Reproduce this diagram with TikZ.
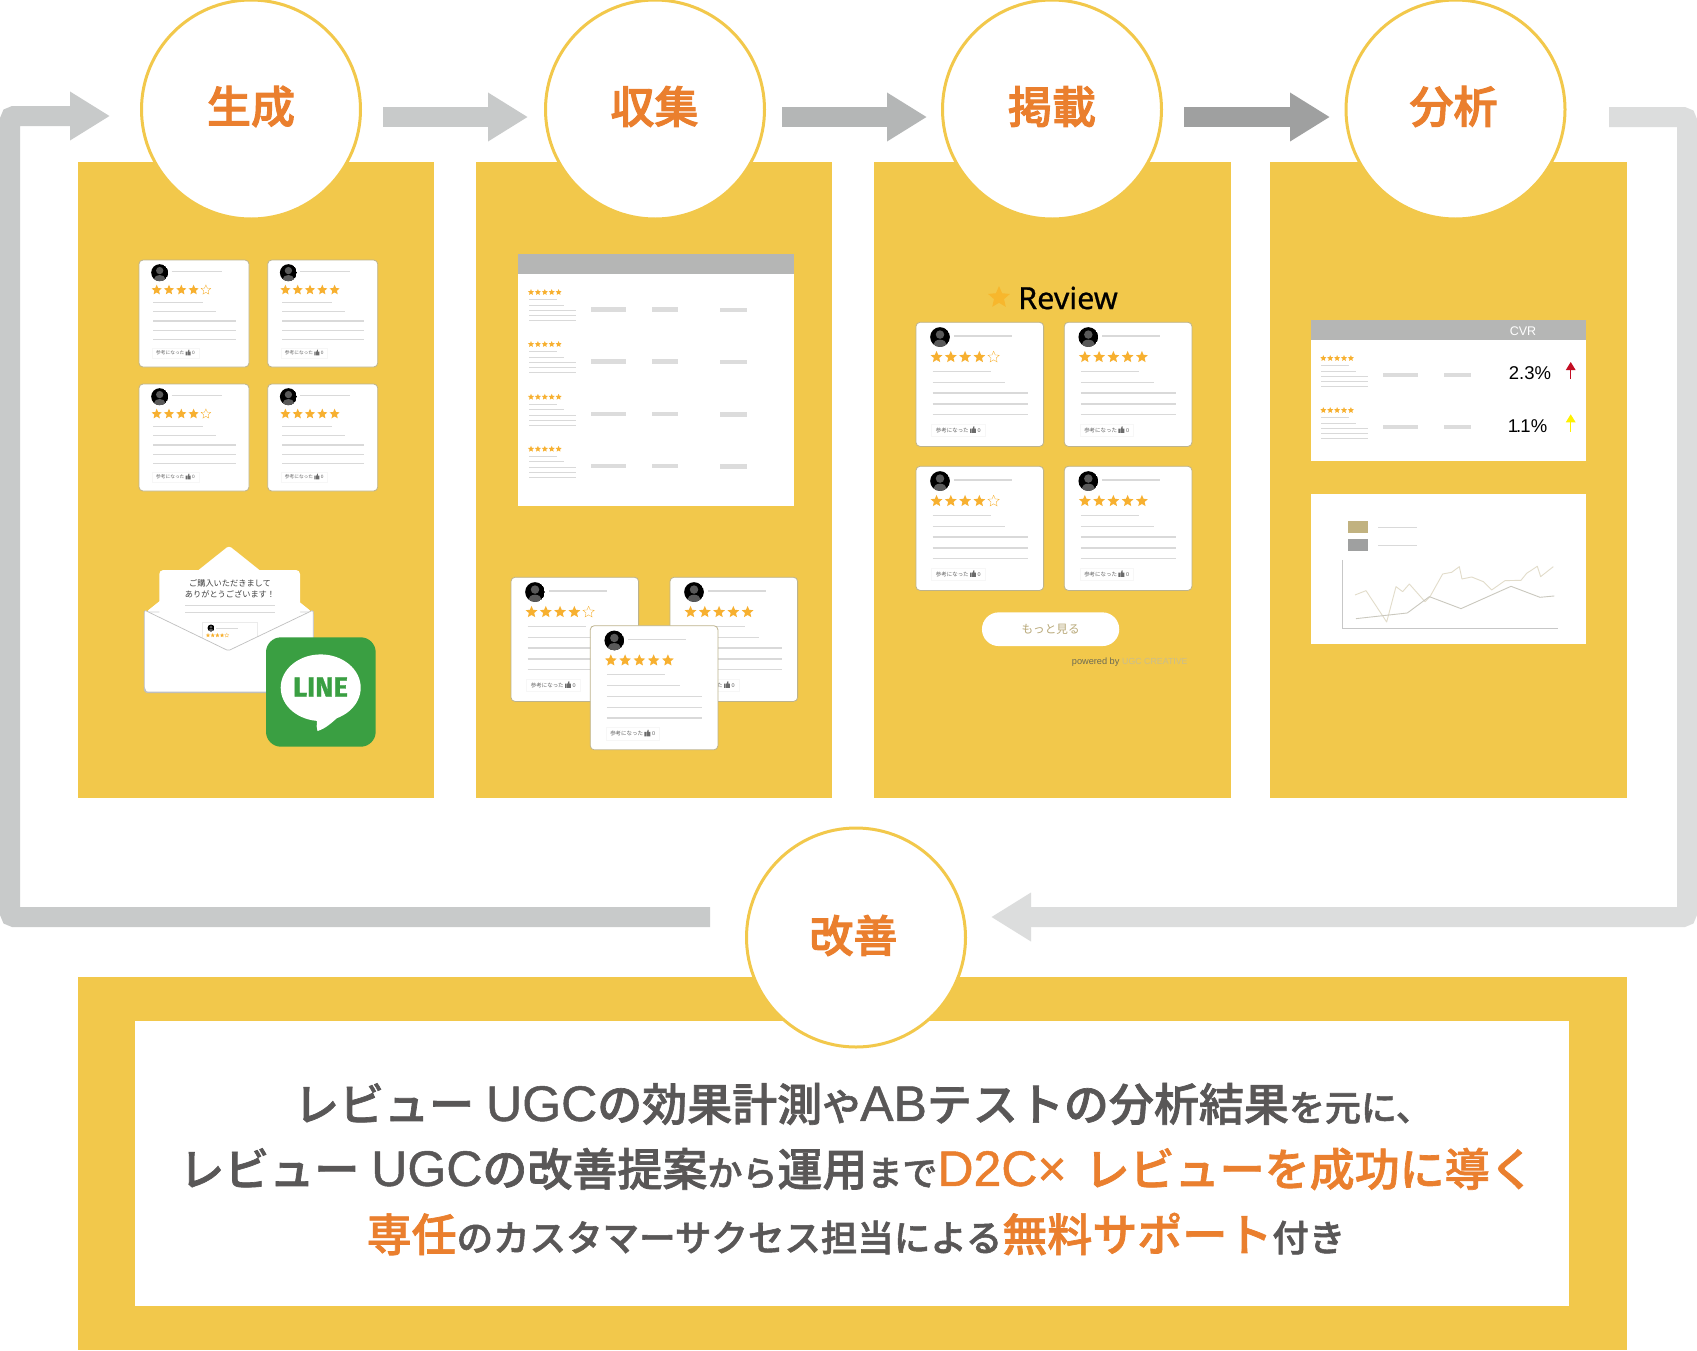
\documentclass[tikz,border=0pt]{standalone}
\usepackage{fontspec}
\usetikzlibrary{arrows.meta,calc}
\setmainfont{Noto Sans CJK JP}
\newfontfamily\cjkm[FakeBold=1.5]{Noto Sans CJK JP Medium}
\newfontfamily\cjkl[FakeBold=2.2]{Noto Sans CJK JP Medium}
\newfontfamily\lsans{Liberation Sans}
\newfontfamily\lsansb[FakeBold=1]{Liberation Sans}
\newfontfamily\nsans[FakeBold=.6]{Noto Sans}
\newfontfamily\fsans[BoldFeatures={FakeBold=1.2}]{Fira Sans}
\newcommand\fs[1]{\fontsize{#1}{#1}\selectfont}
\definecolor{panelc}{HTML}{F2C84B}
\definecolor{orangec}{HTML}{EA7F2E}
\definecolor{greyt}{HTML}{595757}
\definecolor{starc}{HTML}{F7B030}
\definecolor{linec}{HTML}{D9D9D9}
\definecolor{barc}{HTML}{DCDCDC}
\definecolor{headc}{HTML}{B5B6B5}
\definecolor{edgec}{HTML}{BDB38D}
\definecolor{arrowa}{HTML}{C8CACA}
\definecolor{arrowb}{HTML}{B4B6B6}
\definecolor{arrowc}{HTML}{9FA0A0}
\definecolor{arrowd}{HTML}{DCDDDD}
\definecolor{linegreen}{HTML}{3A9F42}
\tikzset{
  panel/.style={fill=panelc,draw=none},
  stepcircle/.style={circle,draw=panelc,line width=3pt,fill=white,minimum size=219pt,inner sep=0pt},
  steplabel/.style={inner sep=0pt,text=orangec,font=\fs{44}\cjkl},
  bigarrow/.style={line width=20pt,-{Triangle[length=40pt,width=46pt]}},
  cardedge/.style={fill=white,draw=edgec,line width=.8pt,rounded corners=4pt},
  gline/.style={draw=linec,line width=1.4pt},
  bar/.style={fill=barc,draw=none},
  bigt/.style={inner sep=0pt,text=greyt},
}
\newcommand\starat[3]{\path[#3,shift={#1},scale=#2] (90:1pt) -- (126:.46pt) -- (162:1pt) -- (198:.46pt) -- (234:1pt) -- (270:.46pt) -- (306:1pt) -- (342:.46pt) -- (18:1pt) -- (54:.46pt) -- cycle;}
\newcommand\avatar[3]{%
  \begin{scope}
  \clip (#1,#2) circle (#3pt);
  \fill[black] (#1,#2) circle (#3pt);
  \fill[black!65] (#1,#2-.25*#3) circle (.43*#3 pt);
  \fill[black!65] (#1,#2+.72*#3) ellipse (.65*#3 pt and .45*#3 pt);
  \end{scope}}
\newcommand\rvcard[5]{%
  \begin{scope}[shift={(#2,#3)},scale=#4]
    \path[cardedge] (0,0) rectangle (110,107);
    \avatar{20.7}{12.7}{8.5}
    \draw[gline] (32.7,11.7) -- (82.7,11.7);
    \foreach \i in {1,...,5}{
      \ifnum\i>#5\relax
        \starat{({17.7+12.3*(\i-1)},30)}{5.1}{draw=starc,fill=white,line width=.35pt}
      \else
        \starat{({17.7+12.3*(\i-1)},30)}{5.3}{fill=starc}
      \fi
    }
    \draw[gline] (14.3,42.3) -- (64.3,42.3);
    \draw[gline] (14.3,51.7) -- (77,51.7);
    \draw[gline] (14.3,61) -- (96.7,61);
    \draw[gline] (14.3,70.3) -- (96.7,70.3);
    \draw[gline] (14.3,79.7) -- (96.7,79.7);
    \draw[black!3,line width=.4pt] (13.3,87.7) rectangle (59.7,98.3);
    \node[transform shape,anchor=west,inner sep=0pt,text=black!62,font=\fs{4.7}] (#1-btn) at (17,93.2) {参考になった};
    \fill[black!58] (46.6,91.6) rectangle (47.9,95.4) (48.3,91.6) rectangle (51.7,95.4) (48.8,91.8) -- (49.6,89.6) -- (50.3,89.8) -- (50.2,91.8) -- cycle;
    \node[transform shape,anchor=west,inner sep=0pt,text=black!62,font=\fs{4.7}\lsans] (#1-cnt) at (53,93.2) {0};
  \end{scope}}
\newcommand\tblrow[2]{%
  \foreach \i in {0,...,4}{\starat{({#1+6.9*\i},#2)}{3.2}{fill=starc}}
  \draw[linec,line width=.8pt] ({#1-2},#2+7.3) -- ({#1+25.5},#2+7.3);
  \draw[linec,line width=.8pt] ({#1-2},#2+12.6) -- ({#1+33},#2+12.6);
  \draw[linec,line width=.8pt] ({#1-2},#2+18) -- ({#1+44.5},#2+18);
  \draw[linec,line width=.8pt] ({#1-2},#2+23) -- ({#1+44.5},#2+23);
  \draw[linec,line width=.8pt] ({#1-2},#2+28.3) -- ({#1+44.5},#2+28.3);}
\begin{document}
\begin{tikzpicture}[x=1pt,y=-1pt]
\useasboundingbox (0,0) rectangle (1697,1350);
\fill[white] (0,0) rectangle (1697,1350);

% panels
\path[panel] (77.5,161.5) rectangle (434,798);
\path[panel] (476,161.5) rectangle (832,798);
\path[panel] (874,161.5) rectangle (1231,798);
\path[panel] (1270,161.5) rectangle (1627,798);
\path[panel] (77.5,977) rectangle (1627,1350);
\fill[white] (135,1021) rectangle (1569,1306);

% connector ends
\coordinate (loopa) at (710,917);
\coordinate (loopb) at (10,917);
\coordinate (loopc) at (10,116);
\coordinate (loopd) at (110,116);
\coordinate (a2s) at (383,117);
\coordinate (a2e) at (528,117);
\coordinate (a3s) at (782,117);
\coordinate (a3e) at (927,117);
\coordinate (a4s) at (1184,117);
\coordinate (a4e) at (1330,117);
\coordinate (rloopa) at (1609,117);
\coordinate (rloopb) at (1687,117);
\coordinate (rloopc) at (1687,917);
\coordinate (rloopd) at (991,917);

\draw[bigarrow,arrowa,rounded corners=4pt] (loopa) -- (loopb) -- (loopc) -- (loopd);
\draw[bigarrow,arrowa] (a2s) -- (a2e);
\draw[bigarrow,arrowb] (a3s) -- (a3e);
\draw[bigarrow,arrowc] (a4s) -- (a4e);
\draw[bigarrow,arrowd,rounded corners=4pt] (rloopa) -- (rloopb) -- (rloopc) -- (rloopd);

% circles
\node[stepcircle] (n1) at (251,109.5) {};
\node[stepcircle] (n2) at (655,109.5) {};
\node[stepcircle] (n3) at (1052,109.5) {};
\node[stepcircle] (n4) at (1455.5,109.5) {};
\node[stepcircle] (n5) at (856,937.5) {};
\node[steplabel] (l1) at (251,106.5) {生成};
\node[steplabel] (l2) at (654.5,106.5) {収集};
\node[steplabel] (l3) at (1052,106.5) {掲載};
\node[steplabel] (l4) at (1453.5,106.5) {分析};
\node[steplabel] (l5) at (853.5,935.5) {改善};

% panel 1
\rvcard{c1a}{139}{260}{1}{4}
\rvcard{c1b}{267.7}{260}{1}{5}
\rvcard{c1c}{139}{384}{1}{4}
\rvcard{c1d}{267.7}{384}{1}{5}

% envelope
\fill[white,rounded corners=3pt] (146,612) -- (229,545.7) -- (312,612) -- cycle;
\fill[white,draw=black!18,line width=.6pt,rounded corners=3pt] (144.3,612) -- (144.3,692.3) -- (313.3,692.3) -- (313.3,612) -- cycle;
\path[fill=white,rounded corners=4pt] (159.3,650) -- (159.3,570) -- (300,570) -- (300,650) -- cycle;
\node[inner sep=0pt,align=center,text=black!75,font=\fs{8.2}] (envtext) at (230,588.5) {ご購入いただきまして\\[2.6pt]ありがとうございます！};
\draw[linec,line width=.7pt] (185,605) -- (275,605);
\draw[linec,line width=.7pt] (185,612.3) -- (275,612.3);
\draw[black!8,line width=.5pt,fill=white] (202.7,622.3) rectangle (257.3,650);
\avatar{211}{628}{3.5}
\draw[linec,line width=.5pt] (216,628) -- (238,628);
\foreach \i in {0,...,4}{
  \ifnum\i=4 \starat{({208+4.7*\i},635.3)}{2.2}{draw=starc,fill=white,line width=.2pt}
  \else \starat{({208+4.7*\i},635.3)}{2.2}{fill=starc}\fi}
\path[fill=white,draw=black!25,line width=.7pt,rounded corners=1.5pt] (144.3,610) -- (228.3,650.7) -- (313.3,610) -- (313.3,692) -- (144.3,692) -- cycle;
\fill[white] (146,612.5) -- (228.3,652) -- (312,612.5) -- (312,690.5) -- (146,690.5) -- cycle;
\draw[black!25,line width=1.2pt,rounded corners=3pt] (145,690) -- (145,692.6) -- (313,692.6) -- (313,690);

% LINE icon
\fill[rounded corners=15pt,linegreen] (266,637.3) rectangle (375.7,746.7);
\fill[white] (320.7,687.7) ellipse (40pt and 33.3pt);
\fill[white] (310,715) -- (317,720) .. controls (317,725) and (316,728) .. (317.5,731) .. controls (325,729) and (333,722) .. (340,715) -- cycle;
\node[inner sep=0pt,font=\fs{27.5}\fsans\bfseries,text=linegreen] (linetext) at (320.5,687) {LINE};

% panel 2 table
\fill[white] (518.3,254) rectangle (794,506);
\fill[headc] (518.3,254) rectangle (794,274.3);
\foreach \yy in {292.3,344.3,397,449}{
  \tblrow{531}{\yy}
  \path[bar] (591,\yy+14.8) rectangle (626,\yy+19.2);
  \path[bar] (652,\yy+14.8) rectangle (678.3,\yy+19.2);
  \path[bar] (720.3,\yy+15.4) rectangle (747,\yy+19.8);
}
\rvcard{c2a}{511}{577.3}{1.16}{4}
\rvcard{c2b}{670}{577.3}{1.16}{5}
\rvcard{c2c}{590.3}{625.7}{1.16}{5}

% panel 3
\starat{(999,297.5)}{11.5}{fill={rgb,255:red,247;green,183;blue,45}}
\node[inner sep=0pt,text=black,font=\fs{30.5}\nsans] (rvtitle) at (1068,298) {Review};
\rvcard{c3a}{916}{322.3}{1.16}{4}
\rvcard{c3b}{1064.3}{322.3}{1.16}{5}
\rvcard{c3c}{916}{466.3}{1.16}{4}
\rvcard{c3d}{1064.3}{466.3}{1.16}{5}
\node[fill=white,rounded corners=16.8pt,minimum width=137.3pt,minimum height=33.7pt,inner sep=0pt,text={rgb,255:red,184;green,168;blue,120},font=\fs{11.6}] (morebtn) at (1050.6,629.2) {もっと見る};
\node[anchor=west,inner sep=0pt,text={rgb,255:red,107;green,106;blue,85},font=\fs{9.2}\lsans] (pwr) at (1071.7,661.7) {powered by};
\node[anchor=west,inner sep=0pt,text={rgb,255:red,201;green,189;blue,143},font=\fs{8.8}\lsans] (ugc) at (1122,661.7) {UGC CREATIVE};

% panel 4 table
\fill[white] (1311,320) rectangle (1586,461);
\fill[headc] (1311,320) rectangle (1586,340);
\node[inner sep=0pt,text=white,font=\fs{12.5}\lsans] (cvr) at (1523,330.7) {CVR};
\foreach \yy in {358.3,410.3}{
  \tblrow{1323.3}{\yy}
  \path[bar] (1383.3,\yy+14.5) rectangle (1418,\yy+19);
  \path[bar] (1444,\yy+14.5) rectangle (1470.7,\yy+19);
}
\node[inner sep=0pt,text=black,font=\fs{18.5}\lsans] (v1) at (1530,373.5) {2.3\%};
\node[inner sep=0pt,text=black,font=\fs{18.5}\lsans] (v2) at (1527.5,425.7) {1\kern-2pt.\kern-.8pt 1\%};
\coordinate (up1s) at (1570.7,379);
\coordinate (up1e) at (1570.7,362);
\coordinate (up2s) at (1570.7,431.7);
\coordinate (up2e) at (1570.7,414.3);
\draw[line width=1.1pt,-{Triangle[length=8pt,width=9.5pt]},color={rgb,255:red,195;green,13;blue,35}] (up1s) -- (up1e);
\draw[line width=1.1pt,-{Triangle[length=8pt,width=9.5pt]},color={rgb,255:red,255;green,241;blue,0}] (up2s) -- (up2e);

% chart
\fill[white] (1311,494) rectangle (1586,644.3);
\fill[color={rgb,255:red,193;green,178;blue,128}] (1347.7,521) rectangle (1367.7,532.7);
\fill[arrowc] (1347.7,539) rectangle (1367.7,551);
\draw[linec,line width=.7pt] (1378,527) -- (1417,527);
\draw[linec,line width=.7pt] (1378,545.3) -- (1417,545.3);
\begin{scope}[shift={(1300,310)},scale=.3333]
  \draw[black!22,line width=.7pt] (127,750) -- (127,955) -- (773,955);
  \draw[line width=.9pt,color={rgb,255:red,226;green,220;blue,202},line join=round] (165,855) -- (198,842) -- (260,936) -- (288,830) -- (308,845) -- (328,822) -- (375,875) -- (390,860) -- (428,792) -- (455,787) -- (478,770) -- (486,807) -- (515,801) -- (550,815) -- (575,840) -- (615,812) -- (663,811) -- (680,790) -- (712,769) -- (722,800) -- (760,770);
  \draw[line width=.9pt,color={rgb,255:red,202;green,200;blue,190},line join=round] (168,926) -- (322,909) -- (388,860) -- (483,896) -- (633,829) -- (720,862) -- (763,858);
\end{scope}

% bottom text
\newcommand\lat[1]{{\fs{50}\lsansb #1}}
\node[bigt] (t1) at (863,1104) {\cjkm\fs{45}レビュー\hspace{12pt}\lat{UGC}の効果計測{\fs{38}や}\lat{AB}テ\kern1ptス\kern1ptトの分析結果{\fs{36}を元に、}};
\node[bigt] (t2) at (857,1169) {\cjkm\fs{45}レビュー\hspace{12pt}\lat{UGC}の改善提案{\fs{35}から}運用{\fs{35}まで}\textcolor{orangec}{\lat{D2C×}\hspace{18pt}レビューを成功に導く}};
\node[bigt] (t3) at (856,1234) {\cjkm\fs{45}\textcolor{orangec}{専任}{\fs{36.5}のカスタマーサクセス担当による}\textcolor{orangec}{無料サポート}{\fs{36.5}付き}};
\end{tikzpicture}
\end{document}
